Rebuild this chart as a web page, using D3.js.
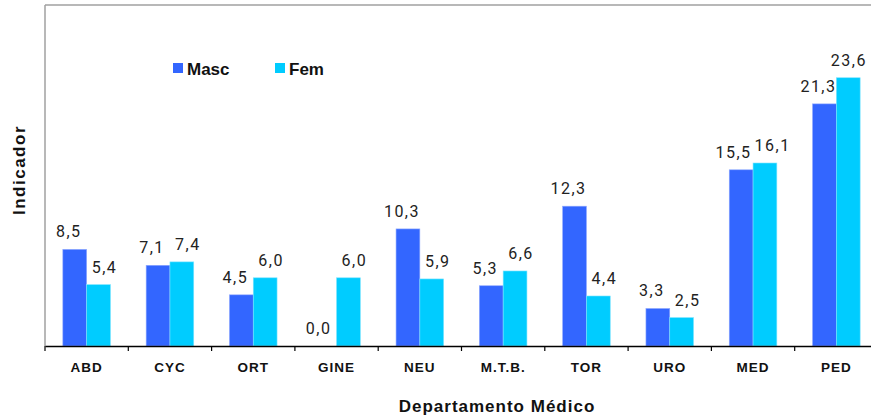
<!DOCTYPE html>
<html>
<head>
<meta charset="utf-8">
<script src="https://cdn.jsdelivr.net/npm/d3@7"></script>
<style>
  html, body { margin: 0; padding: 0; background: #fff; }
  svg { display: block; }
</style>
</head>
<body>
<svg id="chart" width="871" height="419"></svg>
<script>
const categories = ["ABD", "CYC", "ORT", "GINE", "NEU", "M.T.B.", "TOR", "URO", "MED", "PED"];
const masc = [8.5, 7.1, 4.5, 0.0, 10.3, 5.3, 12.3, 3.3, 15.5, 21.3];
const fem  = [5.4, 7.4, 6.0, 6.0, 5.9, 6.6, 4.4, 2.5, 16.1, 23.6];
const seriesNames = ["Masc", "Fem"];
const seriesColors = ["#3366FF", "#00CCFF"];
const yMax = 30;

(function () {
const W = 871;
const svg = d3.select("#chart");
const pL = 45, pR = 878, pT = 5, pB = 346;
const labelShift = [-6, 6];

const x = d3.scaleBand().domain(categories).range([pL, pR]).paddingInner(0).paddingOuter(0);
const xs = d3.scaleBand().domain(seriesNames).range([0, x.bandwidth()]).paddingInner(0).paddingOuter(0.75);
const y = d3.scaleLinear().domain([0, yMax]).range([pB, pT]);

// plot frame (top & left gray)
svg.append("line").attr("x1", pL).attr("x2", W).attr("y1", pT).attr("y2", pT)
  .attr("stroke", "#a0a0a0").attr("stroke-width", 1.5);
svg.append("line").attr("x1", pL).attr("x2", pL).attr("y1", pT).attr("y2", pB)
  .attr("stroke", "#a0a0a0").attr("stroke-width", 1.5);

const data = categories.map((c, i) => ({ cat: c, vals: [masc[i], fem[i]] }));

const groups = svg.append("g").selectAll("g").data(data).join("g")
  .attr("transform", d => `translate(${x(d.cat)},0)`);

groups.selectAll("rect").data(d => d.vals.map((v, j) => ({ v, s: seriesNames[j], j })))
  .join("rect")
  .attr("x", d => xs(d.s))
  .attr("width", xs.bandwidth())
  .attr("y", d => y(d.v))
  .attr("height", d => y(0) - y(d.v))
  .attr("fill", d => seriesColors[d.j])
  .attr("stroke", d => d.j === 0 ? "#8fa8ff" : "#7fe4ff")
  .attr("stroke-width", d => d.v > 0 ? 0.6 : 0);

groups.each(function (d) {
  const g = d3.select(this);
  const gx0 = x(d.cat);
  const texts = d.vals.map((v, j) => {
    let cx = xs(seriesNames[j]) + xs.bandwidth() / 2 + labelShift[j];
    const t = g.append("text")
      .attr("x", cx)
      .attr("y", y(v) - 12)
      .attr("text-anchor", "middle")
      .attr("font-family", "Roboto, 'Liberation Sans', sans-serif")
      .attr("font-size", 16)
      .attr("letter-spacing", 1.5)
      .attr("fill", "#222")
      .text(v.toFixed(1).replace(".", ","));
    // keep inside the picture
    const bb = t.node().getBBox();
    const overRight = gx0 + bb.x + bb.width - (W - 4);
    if (overRight > 0) { cx -= overRight; t.attr("x", cx); }
    return t;
  });
  // resolve overlap between the pair
  const a = texts[0].node().getBBox(), b = texts[1].node().getBBox();
  const hOver = a.x + a.width - b.x;
  const vOver = Math.min(a.y + a.height, b.y + b.height) - Math.max(a.y, b.y);
  if (hOver > -2 && vOver > 0) {
    const push = (hOver + 3) / 2;
    texts[0].attr("x", +texts[0].attr("x") - push);
    texts[1].attr("x", +texts[1].attr("x") + push);
  }
});

// x axis
const xAxis = d3.axisBottom(x).tickSize(0).tickPadding(16);
const gx = svg.append("g").attr("transform", `translate(0,${pB})`).call(xAxis);
gx.select(".domain").attr("stroke", "#000").attr("stroke-width", 1.5);
gx.selectAll("text")
  .attr("font-family", "'Liberation Sans', Arial, sans-serif")
  .attr("font-weight", "bold")
  .attr("font-size", 13.5)
  .attr("letter-spacing", 1)
  .attr("fill", "#111");
// category boundary ticks
const boundaries = categories.map(c => x(c)).concat([pR]);
svg.append("g").selectAll("line").data(boundaries).join("line")
  .attr("x1", d => d).attr("x2", d => d)
  .attr("y1", pB).attr("y2", pB + 5)
  .attr("stroke", "#000").attr("stroke-width", 1.2);

// axis titles
svg.append("text")
  .attr("x", 497).attr("y", 412)
  .attr("text-anchor", "middle")
  .attr("font-family", "'Liberation Sans', Arial, sans-serif")
  .attr("font-weight", "bold").attr("font-size", 17)
  .attr("letter-spacing", 1)
  .attr("fill", "#111")
  .text("Departamento Médico");

svg.append("text")
  .attr("transform", "translate(25,170) rotate(-90)")
  .attr("text-anchor", "middle")
  .attr("font-family", "'Liberation Sans', Arial, sans-serif")
  .attr("font-weight", "bold").attr("font-size", 17)
  .attr("letter-spacing", 1.5)
  .attr("fill", "#111")
  .text("Indicador");

// legend
const legendX = [173, 275];
const lg = svg.append("g").selectAll("g").data(seriesNames).join("g")
  .attr("transform", (d, i) => `translate(${legendX[i]},63)`);
lg.append("rect").attr("width", 10).attr("height", 10)
  .attr("fill", (d, i) => seriesColors[i]);
lg.append("text").attr("x", 14).attr("y", 12)
  .attr("font-family", "'Liberation Sans', Arial, sans-serif")
  .attr("font-weight", "bold").attr("font-size", 17)
  .attr("fill", "#111")
  .text(d => d);
})();
</script>
</body>
</html>
